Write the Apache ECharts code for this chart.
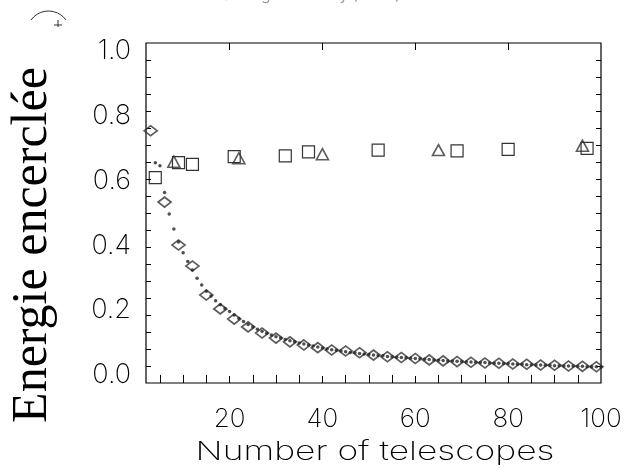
<!DOCTYPE html>
<html>
<head>
<meta charset="utf-8">
<script src="https://cdn.jsdelivr.net/npm/echarts@6/dist/echarts.min.js"></script>
<style>html,body{margin:0;padding:0;background:#fff;}#c{width:631px;height:468px;}</style>
</head>
<body>
<div id="c"></div>
<script>
// ---- data ----
const diamondX = [3,6,9,12,15,18,21,24,27,30,33,36,39,42,45,48,51,54,57,60,63,66,69,72,75,78,81,84,87,90,93,96,99];
const diamondY = [0.742,0.532,0.406,0.344,0.259,0.218,0.188,0.165,0.147,0.132,0.121,0.112,0.104,0.097,0.094,0.089,0.082,0.077,0.075,0.072,0.068,0.065,0.063,0.061,0.059,0.058,0.056,0.055,0.053,0.052,0.050,0.049,0.048];

const dotX = [4,5,6,7,8,9,10,11,12,13,14,15,16,17,18,19,20,21,22,23,24,25,26,27,28,29,30,31,32,33,34,35,36,37,38,39,40,41,42,43,44,45,46,47,48,49,50,51,52,53,54,55,56,57,58,59,60,61,62,63,64,65,66,67,68,69,70,71,72,73,74,75,76,77,78,79,80,81,82,83,84,85,86,87,88,89,90,91,92,93,94,95,96,97,98,99,100];
const dotY = [0.648,0.639,0.560,0.497,0.453,0.415,0.383,0.357,0.332,0.308,0.288,0.270,0.256,0.242,0.230,0.219,0.210,0.200,0.190,0.181,0.172,0.165,0.158,0.152,0.146,0.141,0.136,0.132,0.128,0.124,0.121,0.118,0.115,0.112,0.109,0.106,0.103,0.100,0.098,0.096,0.094,0.092,0.090,0.089,0.087,0.085,0.084,0.082,0.081,0.080,0.078,0.077,0.076,0.075,0.074,0.073,0.072,0.071,0.070,0.069,0.068,0.067,0.066,0.065,0.065,0.064,0.063,0.062,0.062,0.061,0.060,0.060,0.059,0.058,0.058,0.057,0.057,0.056,0.055,0.055,0.054,0.054,0.053,0.053,0.052,0.052,0.051,0.051,0.050,0.050,0.050,0.049,0.049,0.048,0.048,0.048,0.047];

const squareX = [4,9,12,21,32,37,52,69,80,97];
const squareY = [0.604,0.648,0.643,0.666,0.668,0.680,0.685,0.683,0.687,0.690];

const triangleX = [8,22,40,65,96];
const triangleY = [0.651,0.661,0.673,0.685,0.698];

const xMinorTicks = [5,10,15,25,30,35,45,50,55,65,70,75,85,90,95];
const xMajorTicks = [20,40,60,80];
const xTickLabels = [20,40,60,80,100];
const yMinorTicks = [0.05,0.1,0.15,0.2,0.25,0.3,0.35,0.4,0.45,0.5,0.55,0.6,0.65,0.7,0.75,0.8,0.85,0.9,0.95];
const yTickLabels = [0,0.2,0.4,0.6,0.8,1.0];

const xTitle = 'Number of telescopes';
const yTitle = 'Energie encerclée';
const topTitle = 'Seeing on the sky (2003)';

// ---- chart ----
const pair = (xs, ys) => xs.map((x, i) => [x, ys[i]]);
const FONT = 'Inter, "DejaVu Sans", sans-serif';
const WEIGHT = 200;
const chart = echarts.init(document.getElementById('c'), null, {renderer: 'canvas'});

const baseX = {
  type: 'value', min: 2, max: 100, gridIndex: 0,
  axisLine: {show: false}, splitLine: {show: false}
};
const baseY = {
  type: 'value', min: 0, max: 1, gridIndex: 0,
  axisLine: {show: false}, splitLine: {show: false}
};

chart.setOption({
  animation: false,
  backgroundColor: '#ffffff',
  grid: {left: 146, right: 30, top: 43, bottom: 85, outerBoundsMode: 'none', containLabel: false,
         show: true, borderColor: '#000', borderWidth: 1.2, backgroundColor: 'transparent'},
  xAxis: [
    Object.assign({}, baseX, {
      position: 'bottom',
      axisTick: {inside: true, length: 4, customValues: xMinorTicks, lineStyle: {color: '#000', width: 1}},
      axisLabel: {customValues: xTickLabels, fontFamily: FONT, fontWeight: WEIGHT, fontSize: 26, color: '#000', margin: 23}
    }),
    Object.assign({}, baseX, {
      position: 'bottom',
      axisTick: {inside: true, length: 7, customValues: xMajorTicks, lineStyle: {color: '#000', width: 1}},
      axisLabel: {show: false}
    }),
    Object.assign({}, baseX, {
      position: 'top',
      axisTick: {inside: true, length: 4, customValues: xMinorTicks, lineStyle: {color: '#000', width: 1}},
      axisLabel: {show: false}
    }),
    Object.assign({}, baseX, {
      position: 'top',
      axisTick: {inside: true, length: 7, customValues: xMajorTicks, lineStyle: {color: '#000', width: 1}},
      axisLabel: {show: false}
    })
  ],
  yAxis: [
    Object.assign({}, baseY, {
      position: 'left',
      axisTick: {inside: true, length: 5, customValues: yMinorTicks, lineStyle: {color: '#000', width: 1}},
      axisLabel: {show: false}
    }),
    Object.assign({}, baseY, {
      position: 'right',
      axisTick: {inside: true, length: 5, customValues: yMinorTicks, lineStyle: {color: '#000', width: 1}},
      axisLabel: {show: false}
    }),
    // label-only axis: the reference's tick labels sit on a slightly compressed scale
    {
      type: 'value', min: -0.025, max: 1.025, gridIndex: 0, position: 'left',
      axisLine: {show: false}, splitLine: {show: false}, axisTick: {show: false},
      axisLabel: {customValues: yTickLabels, formatter: v => v.toFixed(1), fontFamily: FONT, fontWeight: WEIGHT, fontSize: 27, color: '#000', margin: 15}
    }
  ],
  graphic: [
    {
      type: 'text', x: 33, y: 245, rotation: Math.PI / 2,
      style: {text: yTitle, fontFamily: '"Liberation Serif", "Times New Roman", serif', fontSize: 50, fill: '#000', align: 'center', verticalAlign: 'middle'}
    },
    {
      type: 'text', x: 375, y: 452, scaleX: 1.36, scaleY: 1,
      style: {text: xTitle, fontFamily: FONT, fontWeight: WEIGHT, fontSize: 26, fill: '#000', align: 'center', verticalAlign: 'middle'}
    },
    {
      type: 'text', x: 311, y: 3,
      style: {text: topTitle, fontFamily: FONT, fontSize: 15, fill: '#999', align: 'center', verticalAlign: 'bottom'}
    },
    {
      type: 'arc', shape: {cx: 48.5, cy: 32.5, r: 21.5, startAngle: 3.76, endAngle: 5.66, clockwise: true},
      style: {stroke: '#333', lineWidth: 1, fill: 'none'}
    },
    {
      type: 'polyline', shape: {points: [[58, 20], [58, 27]]},
      style: {stroke: '#333', lineWidth: 1, fill: 'none'}
    },
    {
      type: 'polyline', shape: {points: [[54, 25], [62, 25]]},
      style: {stroke: '#333', lineWidth: 1, fill: 'none'}
    }
  ],
  series: [
    {
      type: 'scatter', name: 'squares', data: pair(squareX, squareY),
      symbol: 'rect', symbolSize: [12, 12], clip: false, z: 3,
      itemStyle: {color: 'transparent', borderColor: '#000', borderWidth: 1.2}
    },
    {
      type: 'scatter', name: 'triangles', data: pair(triangleX, triangleY),
      symbol: 'triangle', symbolSize: [12, 11], clip: false, z: 3,
      itemStyle: {color: 'transparent', borderColor: '#333', borderWidth: 1.6}
    },
    {
      type: 'scatter', name: 'diamonds', data: pair(diamondX, diamondY),
      symbol: 'diamond', symbolSize: [13, 10], clip: false, z: 3,
      itemStyle: {color: 'transparent', borderColor: '#333', borderWidth: 1.7}
    },
    {
      type: 'scatter', name: 'dots', data: pair(dotX, dotY),
      symbol: 'circle', symbolSize: 3.5, clip: false, z: 4,
      itemStyle: {color: '#222'}
    }
  ]
});
</script>
</body>
</html>
